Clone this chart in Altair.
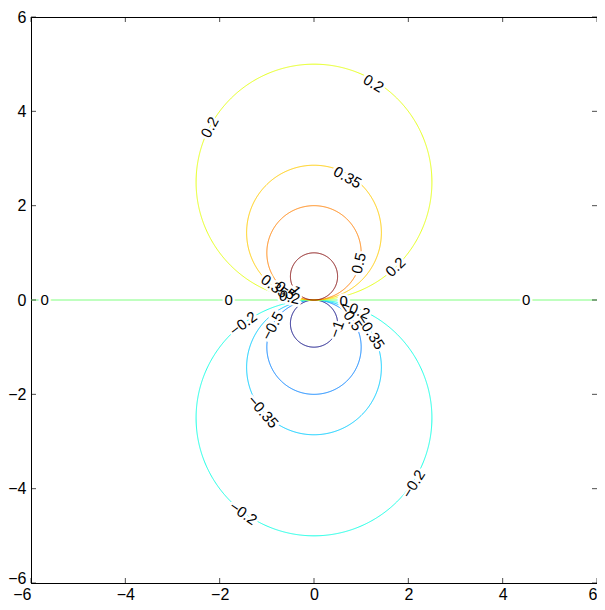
import numpy as np
import pandas as pd
import altair as alt

# contour levels of the dipole potential and their colours (jet colormap)
levels = [-1, -0.5, -0.35, -0.2, 0, 0.2, 0.35, 0.5, 1]
level_colors = ["#000080", "#0080ff", "#00ccff", "#1affe6", "#80ff80",
                "#e6ff1a", "#ffcc00", "#ff8000", "#800000"]

# axis ticks
x_ticks = [-6, -4, -2, 0, 2, 4, 6]
y_ticks = [-6, -4, -2, 0, 2, 4, 6]

# inline contour labels
lab_text = ["0.2", "0.2", "0.35", "0.5", "0.2", "0.35", "0.5", "1", "0.2",
            "0", "0", "0", "0",
            "−0.2", "−0.5", "−1", "−0.35", "−0.2", "−0.5", "−0.35", "−0.2", "−0.2"]
lab_x = [1.26, -2.21, 0.71, 0.95, 1.73, -0.84, -0.6, -0.4, -0.52,
         -5.71, -1.81, 4.5, 0.63,
         0.88, 0.77, 0.48, 1.2, -1.5, -0.88, -1.08, -1.5, 2.11]
lab_y = [4.59, 3.66, 2.60, 0.78, 0.70, 0.29, 0.2, 0.2, 0.06,
         0, 0, 0, -0.02,
         -0.2, -0.36, -0.62, -0.68, -0.5, -0.55, -2.37, -4.52, -3.9]
lab_angle = [31, 298, 30, 283, 316, 36, 37, 53, 13,
             0, 0, 0, 0,
             21, 55, 290, 57, 323, 298, 49, 35, 302]

# contour curves of V = y / (x^2 + y^2): circles through the origin, and y = 0
rows = []
t = np.linspace(0, 2 * np.pi, 721)
for c in levels:
    name = str(c)
    if c == 0:
        xs = np.linspace(-6, 6, 2)
        ys = np.zeros_like(xs)
    else:
        r = 1 / (2 * abs(c))
        yc = 1 / (2 * c)
        xs = r * np.sin(t)
        ys = yc - np.sign(c) * r * np.cos(t)
    for i, (a, b) in enumerate(zip(xs, ys)):
        rows.append({"x": a, "y": b, "lvl": name, "i": i})
curves = pd.DataFrame(rows)

labels = pd.DataFrame({"x": lab_x, "y": lab_y, "text": lab_text, "angle": lab_angle})

W, H = 566, 566
FONT = "Liberation Sans"

xscale = alt.Scale(domain=[-6, 6], nice=False, zero=False)
yscale = alt.Scale(domain=[-6, 6], nice=False, zero=False)

xaxis = alt.Axis(values=x_ticks, ticks=False, tickSize=0, grid=False, title=None,
                 labelPadding=3, labelFontSize=16, labelFont=FONT, labelColor="black",
                 domainColor="black", labelFlush=False,
                 labelAlign={"condition": {"test": "datum.value == 6 || datum.value == -6",
                                           "value": "right"},
                             "value": "center"})
yaxis = alt.Axis(values=y_ticks, ticks=False, tickSize=0, grid=False, title=None,
                 labelPadding=5, labelFontSize=16, labelFont=FONT, labelColor="black",
                 domainColor="black", labelFlush=False,
                 labelBaseline={"condition": {"test": "datum.value == -6",
                                              "value": "alphabetic"},
                                "value": "middle"})

lines = alt.Chart(curves).mark_line(strokeWidth=1, clip=True).encode(
    x=alt.X("x:Q", scale=xscale, axis=xaxis),
    y=alt.Y("y:Q", scale=yscale, axis=yaxis),
    color=alt.Color("lvl:N", scale=alt.Scale(domain=[str(c) for c in levels],
                                             range=level_colors), legend=None),
    detail="lvl:N",
    order="i:Q",
)

halo = alt.Chart(labels).mark_text(
    fontSize=15, font=FONT, color="white", stroke="white", strokeWidth=5,
    align="center", baseline="middle"
).encode(
    x=alt.X("x:Q", scale=xscale),
    y=alt.Y("y:Q", scale=yscale),
    text="text:N",
    angle=alt.Angle("angle:Q", scale=None),
)

texts = alt.Chart(labels).mark_text(
    fontSize=15, font=FONT, color="black", align="center", baseline="middle"
).encode(
    x=alt.X("x:Q", scale=xscale),
    y=alt.Y("y:Q", scale=yscale),
    text="text:N",
    angle=alt.Angle("angle:Q", scale=None),
)

xt = pd.DataFrame({"x": x_ticks})
yt = pd.DataFrame({"y": y_ticks})
tick_bottom = alt.Chart(xt).mark_tick(orient="vertical", size=5, thickness=1, color="black").encode(
    x=alt.X("x:Q", scale=xscale), y=alt.value(H - 2.5))
tick_top = alt.Chart(xt).mark_tick(orient="vertical", size=5, thickness=1, color="black").encode(
    x=alt.X("x:Q", scale=xscale), y=alt.value(2.5))
tick_left = alt.Chart(yt).mark_tick(orient="horizontal", size=5, thickness=1, color="black").encode(
    y=alt.Y("y:Q", scale=yscale), x=alt.value(2.5))
tick_right = alt.Chart(yt).mark_tick(orient="horizontal", size=5, thickness=1, color="black").encode(
    y=alt.Y("y:Q", scale=yscale), x=alt.value(W - 2.5))

chart = alt.layer(lines, halo, texts, tick_bottom, tick_top, tick_left, tick_right).properties(
    width=W, height=H,
    autosize=alt.AutoSizeParams(type="none"),
    padding={"left": 23, "top": 9, "right": 0, "bottom": 19},
    background="white",
).configure_view(stroke="black", strokeWidth=1)

chart.save("out.html", embed_options={"renderer": "svg", "actions": False})
